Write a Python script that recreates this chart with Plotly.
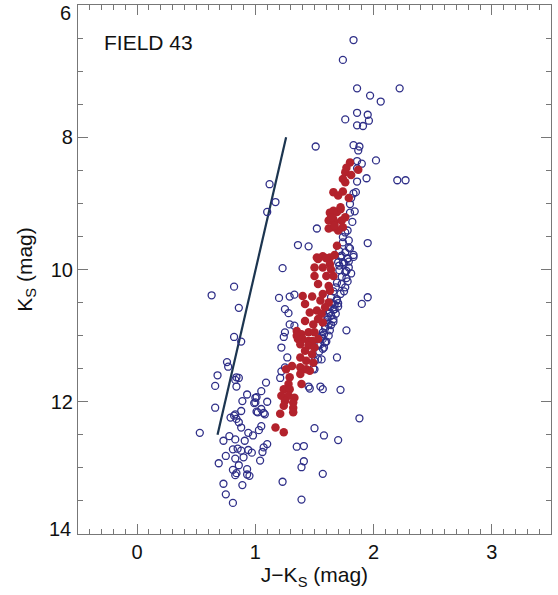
import plotly.graph_objects as go

# Field stars (open blue circles): J-Ks colour, Ks magnitude
blue_x = [1.83,1.74,1.86,2.22,1.97,2.06,1.86,1.95,1.76,1.96,1.86,1.91,1.51,1.83,1.88,1.87,1.86,1.90,2.02,1.86,
          1.94,1.86,2.20,2.27,1.83,1.85,1.81,1.80,1.84,1.80,1.82,1.52,1.78,1.76,1.74,1.79,1.74,1.79,1.95,1.36,
          1.45,1.71,1.80,1.76,1.83,1.72,1.78,1.74,1.79,1.71,1.77,1.23,
          1.12,1.17,1.10,0.82,0.63,0.86,0.82,0.88,0.76,0.77,
          1.73,1.78,1.83,1.70,1.75,1.79,1.71,1.76,1.73,1.77,1.69,1.73,1.68,1.76,1.66,1.72,1.64,1.69,1.64,1.70,
          1.63,1.67,1.63,1.68,1.61,1.66,1.60,1.64,1.59,1.63,1.58,1.62,1.57,1.60,
          1.69,1.67,1.70,1.66,1.62,1.64,1.61,1.66,1.62,1.59,1.57,1.56,1.55,1.58,1.54,1.53,1.50,1.49,1.56,1.59,
          1.53,1.57,1.81,1.78,1.75,
          1.20,1.29,1.33,1.95,1.90,1.25,1.28,1.29,1.33,1.77,1.25,1.24,1.22,1.27,1.25,1.22,1.21,
          1.09,1.05,1.01,1.00,1.10,1.02,1.08,1.05,
          1.45,1.46,1.55,1.57,1.72,1.69,1.56,1.50,1.88,
          1.50,1.58,1.70,1.35,1.41,1.41,1.39,1.57,1.23,1.39,
          0.68,0.66,0.84,0.86,0.83,0.84,0.93,1.00,0.89,0.99,0.66,0.88,0.83,0.82,0.79,0.84,1.01,1.07,0.86,1.05,
          1.03,0.88,0.94,0.98,0.53,0.73,0.78,0.83,0.91,1.10,1.07,0.81,0.85,0.88,0.94,0.97,0.75,0.83,0.90,1.06,
          1.04,0.69,0.86,0.81,0.84,0.83,0.93,0.93,0.95,0.73,0.89,0.75,0.81]
blue_y = [6.53,6.83,7.26,7.26,7.37,7.46,7.63,7.66,7.73,7.75,7.82,7.83,8.14,8.12,8.14,8.20,8.36,8.40,8.35,8.47,
          8.62,8.67,8.65,8.65,8.85,8.83,8.92,9.01,9.12,9.14,9.28,9.38,9.41,9.44,9.51,9.56,9.59,9.67,9.60,9.63,
          9.65,9.72,9.68,9.74,9.78,9.80,9.84,9.89,9.88,9.94,10.02,9.98,
          8.71,8.98,9.13,10.26,10.39,10.58,11.02,11.09,11.40,11.47,
          9.79,9.83,9.81,9.89,9.91,9.97,10.01,10.04,10.11,10.13,10.20,10.22,10.27,10.27,10.33,10.37,10.42,10.45,10.50,10.51,
          10.57,10.60,10.65,10.67,10.72,10.75,10.80,10.84,10.89,10.92,10.98,11.00,11.05,11.09,
          10.47,10.53,10.56,10.61,10.66,10.70,10.76,10.79,10.83,10.86,10.95,11.03,11.13,11.18,11.24,11.36,11.38,11.50,11.00,11.10,
          11.15,11.20,10.06,10.18,10.33,
          10.43,10.41,10.38,10.42,10.52,10.60,10.66,10.83,10.85,10.92,10.95,11.02,11.18,11.33,11.48,11.54,11.64,
          11.71,11.84,11.93,12.01,12.00,12.16,12.19,12.11,
          11.77,11.80,11.77,11.81,11.82,11.33,11.36,11.51,12.25,
          12.40,12.51,12.58,12.68,12.67,12.90,12.99,13.09,13.21,13.48,
          11.60,11.76,11.63,11.64,11.67,11.77,11.89,11.94,11.99,12.02,12.09,12.14,12.19,12.21,12.24,12.26,12.15,12.17,12.31,12.37,
          12.43,12.39,12.47,12.51,12.47,12.59,12.52,12.57,12.59,12.64,12.69,12.72,12.71,12.74,12.73,12.77,12.82,12.86,12.84,12.76,
          12.89,12.93,12.96,13.03,13.08,13.11,13.02,13.10,13.12,13.24,13.26,13.40,13.53]

# Selected stars (filled red circles)
red_x = [1.80,1.77,1.76,1.81,1.87,1.74,1.76,1.66,1.74,1.70,1.79,1.72,1.69,1.63,1.76,1.66,1.62,1.67,1.73,1.66,
         1.74,1.70,1.62,1.69,1.52,1.57,1.63,1.67,1.67,1.72,1.66,1.64,
         1.53,1.60,1.50,1.57,1.63,1.64,1.50,1.60,1.66,1.53,1.62,1.63,1.57,1.40,1.48,1.55,1.62,1.42,
         1.59,1.52,1.46,1.56,1.53,1.42,1.49,1.57,1.35,1.39,1.45,1.50,1.53,1.36,1.45,
         1.35,1.40,1.48,1.38,1.45,1.50,1.42,1.48,1.38,1.43,1.49,1.31,1.38,1.43,1.46,1.26,1.38,1.29,1.39,1.28,
         1.24,1.29,1.22,1.28,1.33,1.25,1.32,1.24,1.32,1.21,1.32,1.17,1.24]
red_y = [8.38,8.46,8.53,8.57,8.49,8.63,8.68,8.83,8.82,8.88,8.92,9.09,9.13,9.14,9.21,9.24,9.26,9.29,9.26,9.36,
         9.36,9.41,9.38,9.64,9.82,9.80,9.82,9.78,9.34,9.06,9.11,9.21,
         9.84,9.83,9.97,9.97,9.92,10.00,10.10,10.10,10.10,10.22,10.25,10.32,10.37,10.40,10.41,10.47,10.50,10.52,
         10.57,10.62,10.65,10.67,10.75,10.78,10.83,10.80,10.93,10.98,10.95,10.95,11.05,11.05,11.08,
         11.00,11.05,11.08,11.13,11.15,11.18,11.23,11.28,11.33,11.38,11.41,11.46,11.48,11.51,11.53,11.51,11.58,11.63,11.73,11.73,
         11.81,11.81,11.91,11.91,11.94,11.99,12.01,12.06,12.09,12.18,12.16,12.39,12.46]

# Reddening line endpoints
line_x = [0.68, 1.26]
line_y = [12.5, 8.0]

x_tickvals = [0, 1, 2, 3]
x_ticktext = ["0", "1", "2", "3"]
y_tickvals = [8, 10, 12]
y_ticktext = ["8", "10", "12"]
y_end_vals = [6, 14]          # end labels drawn as annotations (pulled inside the frame)
y_end_labels = ["6", "14"]

FONT = "Liberation Sans, Arial, Helvetica"
GREY = "#777777"

fig = go.Figure()
fig.add_trace(go.Scatter(x=line_x, y=line_y, mode="lines",
                         line=dict(color="#1c3550", width=2.2), showlegend=False))
fig.add_trace(go.Scatter(x=blue_x, y=blue_y, mode="markers",
                         marker=dict(symbol="circle-open", size=7, color="#2f2f88",
                                     line=dict(width=1.3, color="#2f2f88")),
                         showlegend=False))
fig.add_trace(go.Scatter(x=red_x, y=red_y, mode="markers",
                         marker=dict(symbol="circle", size=8.5, color="#b3222c"),
                         showlegend=False))

axis_common = dict(showgrid=False, zeroline=False, showline=True, linecolor=GREY,
                   linewidth=1.2, mirror="allticks", ticks="inside", ticklen=10,
                   tickwidth=1, tickcolor=GREY,
                   tickfont=dict(family=FONT, size=20, color="#111111"))

fig.update_xaxes(range=[-0.5, 3.5], tickvals=x_tickvals, ticktext=x_ticktext,
                 minor=dict(dtick=0.1, ticks="inside", ticklen=5, tickcolor=GREY, showgrid=False),
                 title=dict(text="J\u2212K<sub>S</sub> (mag)", standoff=4,
                            font=dict(family=FONT, size=21, color="#111111")),
                 **axis_common)
fig.update_yaxes(range=[14, 6], tickvals=y_tickvals, ticktext=y_ticktext,
                 minor=dict(dtick=0.5, ticks="inside", ticklen=5, tickcolor=GREY, showgrid=False),
                 title=dict(text="K<sub>S</sub> (mag)", standoff=12,
                            font=dict(family=FONT, size=21, color="#111111")),
                 **axis_common)

for val, lab, shift in zip(y_end_vals, y_end_labels, [-8, 5]):
    fig.add_annotation(text=lab, xref="paper", yref="y", x=0, y=val,
                       xanchor="right", yanchor="middle", xshift=-5, yshift=shift, showarrow=False,
                       font=dict(family=FONT, size=20, color="#111111"))

fig.add_annotation(text="FIELD 43", xref="paper", yref="paper", x=0.05, y=0.93,
                   xanchor="left", yanchor="middle", showarrow=False,
                   font=dict(family=FONT, size=21, color="#111111"))

fig.update_layout(width=558, height=595, margin=dict(l=78, r=7, t=5, b=61),
                  plot_bgcolor="white", paper_bgcolor="white")

fig.write_html("out.html")
